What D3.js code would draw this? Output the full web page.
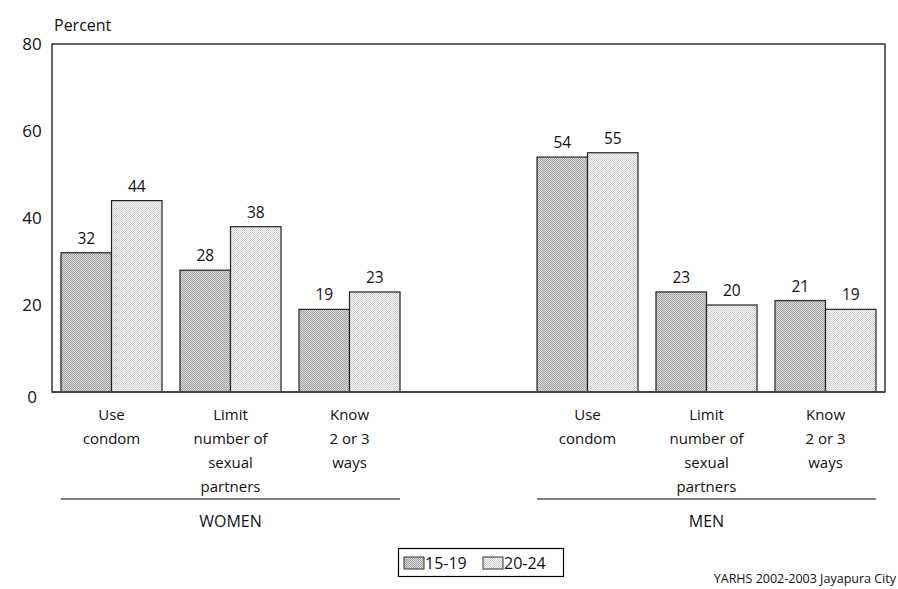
<!DOCTYPE html>
<html>
<head>
<meta charset="utf-8">
<script src="https://cdn.jsdelivr.net/npm/d3@7"></script>
<style>
  html, body { margin: 0; padding: 0; background: #fff; }
  svg { display: block; font-family: "Open Sans", "DejaVu Sans", sans-serif; }
</style>
</head>
<body>
<svg id="chart" width="898" height="589"></svg>
<script>
// Categories (an empty slot separates the two sex groups)
const categories = ["w-condom", "w-limit", "w-know", "gap", "m-condom", "m-limit", "m-know"];
const categoryLabels = [
  ["Use", "condom"],
  ["Limit", "number of", "sexual", "partners"],
  ["Know", "2 or 3", "ways"],
  [],
  ["Use", "condom"],
  ["Limit", "number of", "sexual", "partners"],
  ["Know", "2 or 3", "ways"]
];
const groups = [
  { name: "WOMEN", first: "w-condom", last: "w-know" },
  { name: "MEN", first: "m-condom", last: "m-know" }
];
const seriesNames = ["15-19", "20-24"];
const age1519 = [32, 28, 19, null, 54, 23, 21];
const age2024 = [44, 38, 23, null, 55, 20, 19];
const yTicks = [0, 20, 40, 60, 80];

const svg = d3.select("#chart");

// Fill textures for the two age groups
const defs = svg.append("defs");
function checker(id, a, b) {
  const p = defs.append("pattern").attr("id", id)
    .attr("width", 2).attr("height", 2).attr("patternUnits", "userSpaceOnUse");
  p.append("rect").attr("width", 2).attr("height", 2).attr("fill", b);
  p.append("rect").attr("width", 1).attr("height", 1).attr("fill", a);
  p.append("rect").attr("x", 1).attr("y", 1).attr("width", 1).attr("height", 1).attr("fill", a);
}
checker("pat1519", "#a4a4a4", "#d8d8d8");
checker("pat2024", "#cccccc", "#fafafa");
const fills = ["url(#pat1519)", "url(#pat2024)"];

const plotLeft = 52, plotRight = 885, plotTop = 44, plotBottom = 392;

const x = d3.scaleBand().domain(categories).range([plotLeft, plotRight])
  .paddingInner(18 / 119).paddingOuter(9 / 119);
const xs = d3.scaleBand().domain(seriesNames).range([0, x.bandwidth()]);
const y = d3.scaleLinear().domain([0, 80]).range([plotBottom, plotTop]);

// Plot frame
svg.append("rect")
  .attr("x", plotLeft).attr("y", plotTop)
  .attr("width", plotRight - plotLeft).attr("height", plotBottom - plotTop)
  .attr("fill", "none").attr("stroke", "#000").attr("stroke-width", 1.2);

// Y axis labels
const yAxis = d3.axisLeft(y).tickValues(yTicks).tickSize(0).tickPadding(14);
const yg = svg.append("g").attr("transform", `translate(${plotLeft},0)`).call(yAxis);
yg.select(".domain").remove();
yg.selectAll("text").attr("font-size", 17).attr("fill", "#111")
  .attr("font-family", "'Open Sans', sans-serif").attr("text-anchor", "middle").attr("dx", -6);
yg.selectAll(".tick").filter(d => d === 0).select("text").attr("dy", "0.62em");

svg.append("text").attr("x", 54).attr("y", 31)
  .attr("font-size", 16).attr("fill", "#111").text("Percent");

// Bars
const seriesData = [age1519, age2024];
seriesData.forEach((vals, si) => {
  const data = categories.map((c, i) => ({ c, v: vals[i] })).filter(d => d.v != null);
  svg.append("g").selectAll("rect").data(data).join("rect")
    .attr("x", d => x(d.c) + xs(seriesNames[si]))
    .attr("y", d => y(d.v))
    .attr("width", xs.bandwidth())
    .attr("height", d => y(0) - y(d.v))
    .attr("fill", fills[si])
    .attr("stroke", "#222").attr("stroke-width", 1.2);
  svg.append("g").selectAll("text").data(data).join("text")
    .attr("x", d => x(d.c) + xs(seriesNames[si]) + xs.bandwidth() / 2)
    .attr("y", d => y(d.v) - 9)
    .attr("text-anchor", "middle").attr("font-size", 15.5).attr("fill", "#111")
    .text(d => d.v);
});

// Baseline
svg.append("line").attr("x1", plotLeft).attr("x2", plotRight)
  .attr("y1", plotBottom).attr("y2", plotBottom)
  .attr("stroke", "#444").attr("stroke-width", 2);

// Category labels
categories.forEach((c, i) => {
  const t = svg.append("text").attr("text-anchor", "middle")
    .attr("font-size", 15).attr("fill", "#111");
  categoryLabels[i].forEach((line, j) => {
    t.append("tspan").attr("x", x(c) + x.bandwidth() / 2)
      .attr("y", 420 + j * 24).text(line);
  });
});

// Group underlines and names
groups.forEach(g => {
  const x1 = x(g.first), x2 = x(g.last) + x.bandwidth();
  svg.append("line").attr("x1", x1).attr("x2", x2).attr("y1", 499).attr("y2", 499)
    .attr("stroke", "#000").attr("stroke-width", 1.2);
  svg.append("text").attr("x", (x1 + x2) / 2).attr("y", 527)
    .attr("text-anchor", "middle").attr("font-size", 16).attr("fill", "#111").text(g.name);
});

// Legend
const lg = svg.append("g");
lg.append("rect").attr("x", 398.5).attr("y", 548.5).attr("width", 165).attr("height", 28)
  .attr("fill", "#fff").attr("stroke", "#000").attr("stroke-width", 1.2);
const legendX = [404, 483];
seriesNames.forEach((s, i) => {
  lg.append("rect").attr("x", legendX[i]).attr("y", 557).attr("width", 20).attr("height", 12)
    .attr("fill", fills[i]).attr("stroke", "#333").attr("stroke-width", 1);
  lg.append("text").attr("x", legendX[i] + 21).attr("y", 569)
    .attr("font-size", 16).attr("fill", "#111").text(s);
});

// Source note
svg.append("text").attr("x", 896).attr("y", 583).attr("text-anchor", "end")
  .attr("font-size", 12.5).attr("fill", "#111").text("YARHS 2002-2003 Jayapura City");
</script>
</body>
</html>
